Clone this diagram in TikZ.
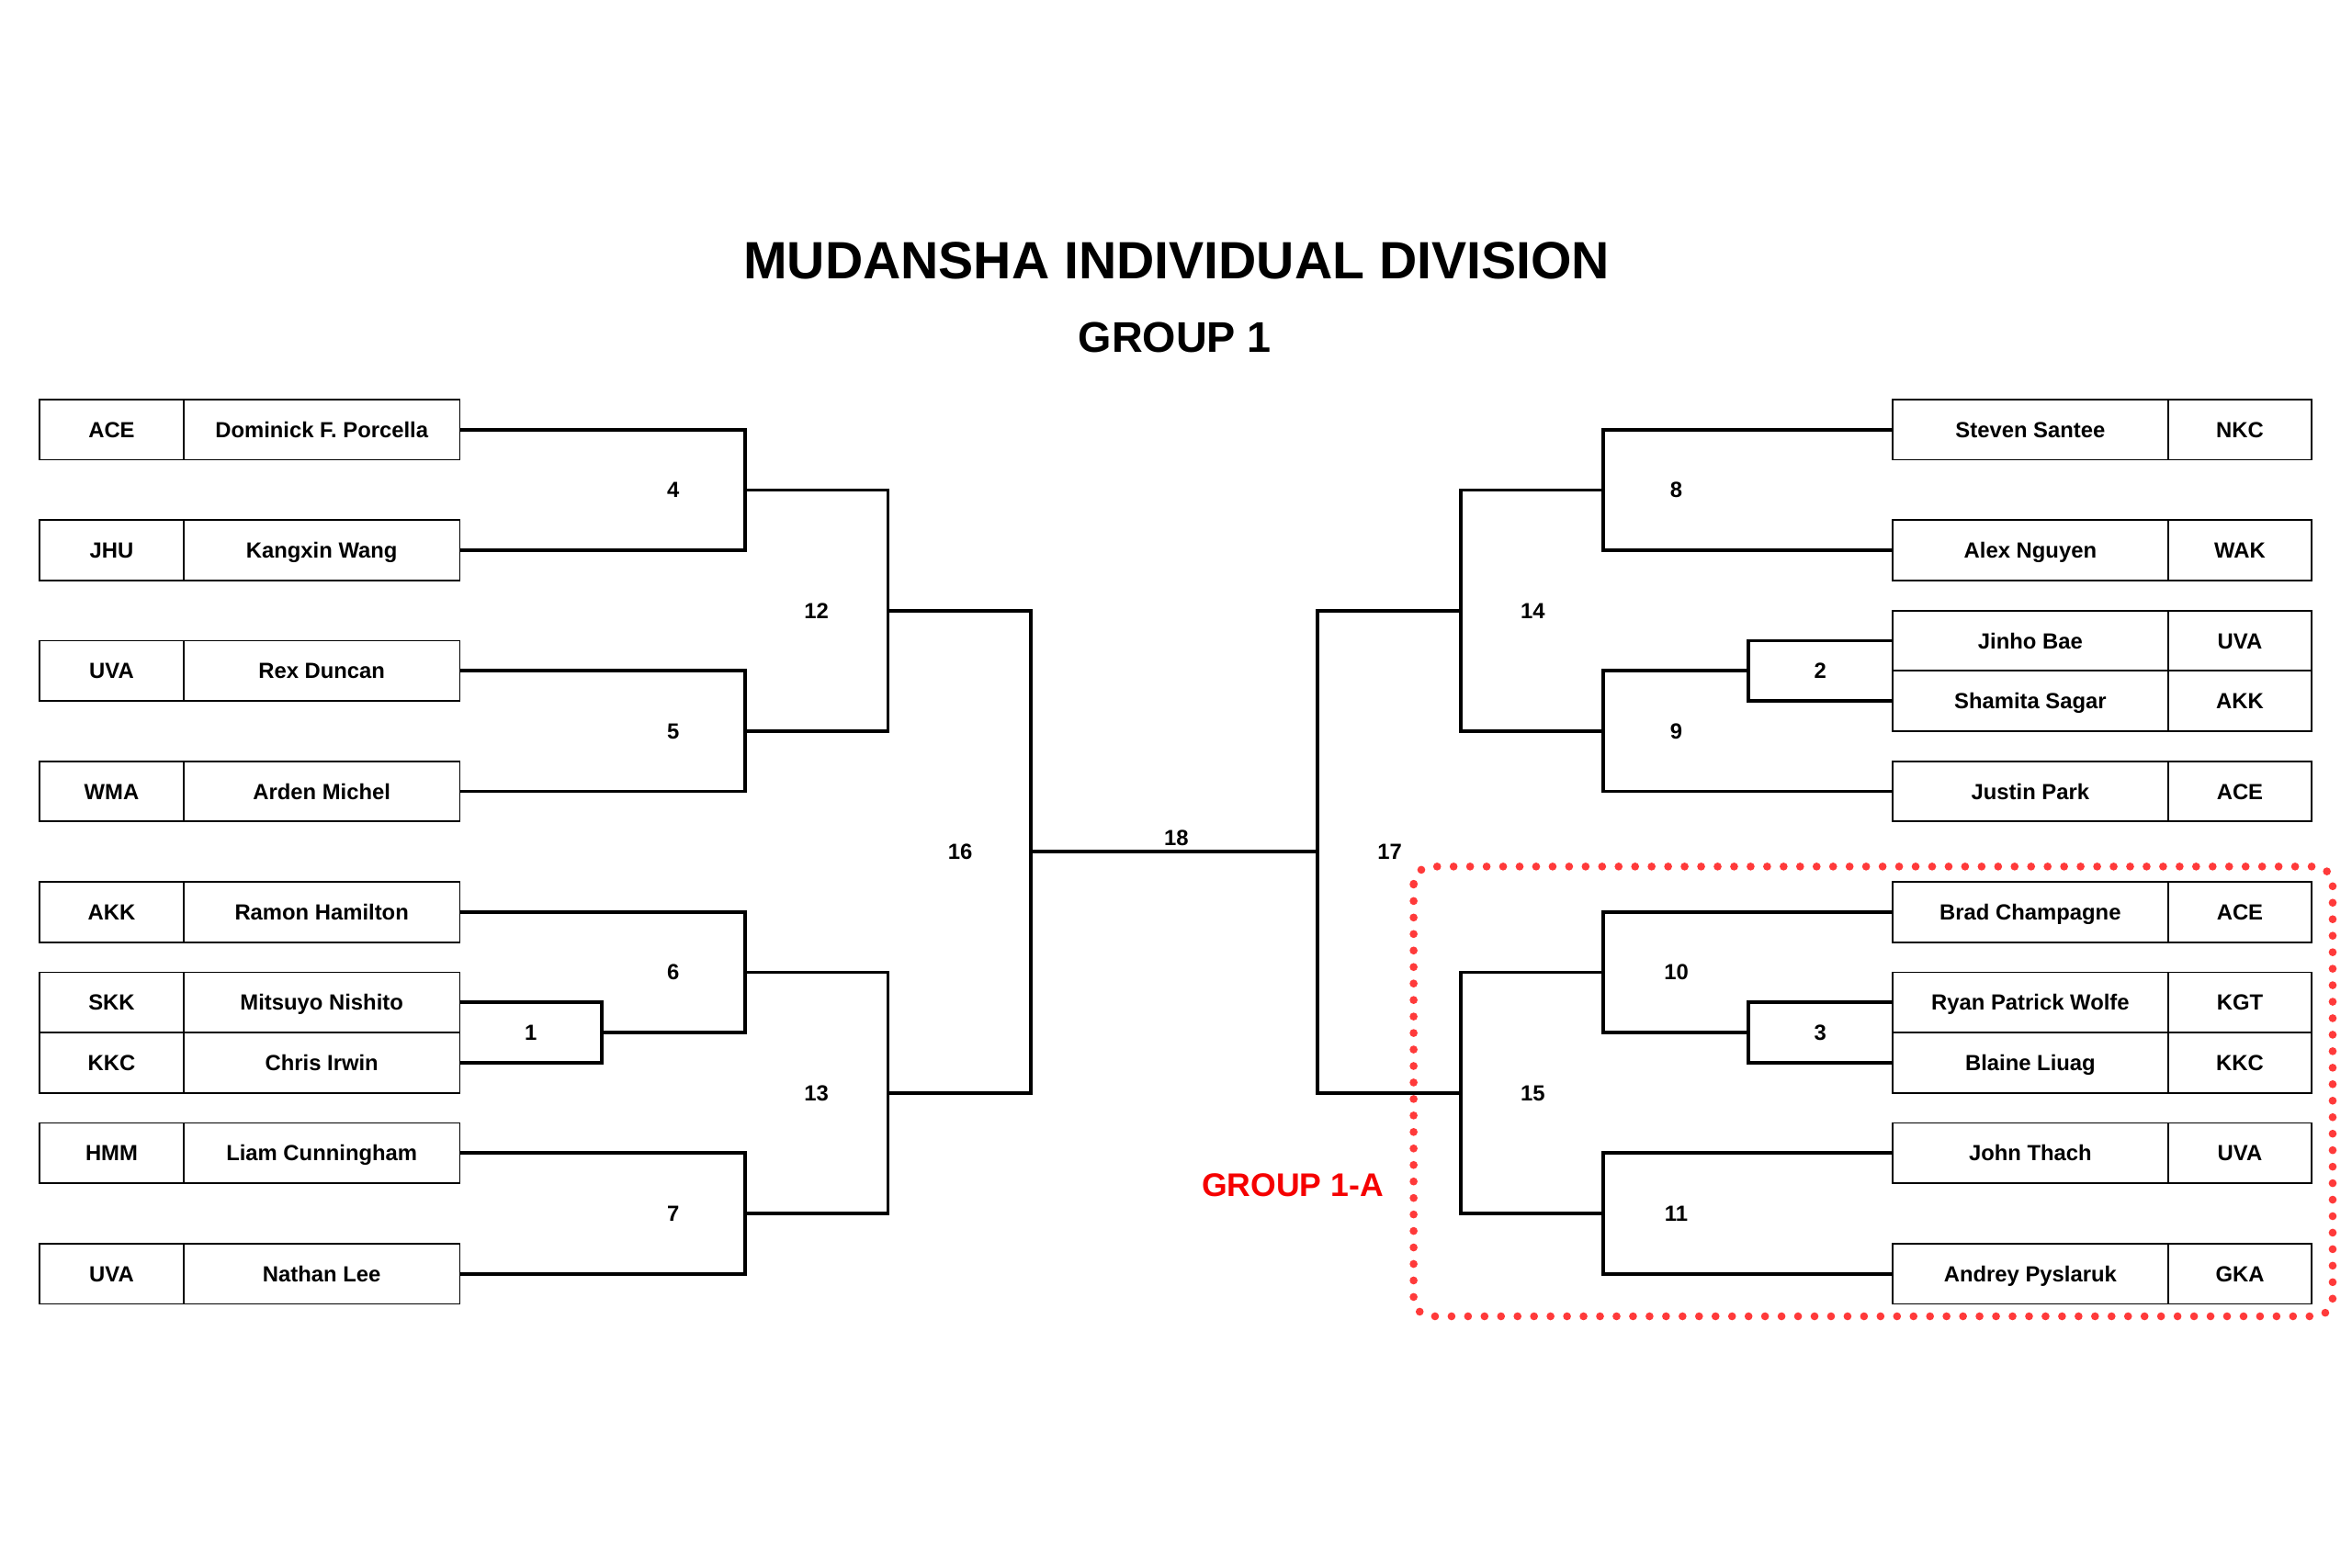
\documentclass[tikz,border=0pt]{standalone}
\usepackage{fontspec}
\setmainfont{Liberation Sans}
\definecolor{dotred}{RGB}{255,58,58}
\definecolor{labred}{RGB}{245,0,0}
\newcommand\boxfont{\bfseries\fontsize{14.6}{17}\selectfont}
\newcommand\LeftEntry[4]{%
  \node[clubbox] (#1c) at (74.4,#2) {#3};
  \node[playerbox] (#1) at (214.5,#2) {#4};}
\newcommand\RightEntry[4]{%
  \node[playerbox] (#1) at (1353.55,#2) {#4};
  \node[clubbox] (#1c) at (1493.25,#2) {#3};}
\tikzset{
  clubbox/.style={draw, line width=1.1pt, minimum width=95.8pt, minimum height=40.2pt,
    inner sep=0pt, outer sep=0pt, font=\boxfont, text height=10.45pt, text depth=0pt},
  playerbox/.style={clubbox, minimum width=184.1pt},
  numlabel/.style={font=\boxfont, text height=10.45pt, text depth=0pt, inner sep=0pt},
  bracket/.style={line width=2.3pt, line join=miter},
  reddots/.style={dotred, line width=5.3pt, line cap=round, dash pattern=on 0pt off 11pt, rounded corners=12pt},
}
\begin{document}
\begin{tikzpicture}[x=1pt,y=-1pt]
\fill[white] (0,0) rectangle (1568,1045.5);
\useasboundingbox (0,0) rectangle (1568,1045.5);

% titles
\node[font=\bfseries\fontsize{35}{40}\selectfont, text height=25.06pt, text depth=0pt, inner sep=0pt] (title) at (784.4,173.4) {MUDANSHA INDIVIDUAL DIVISION};
\node[font=\bfseries\fontsize{28.6}{32}\selectfont, text height=20.5pt, text depth=0pt, inner sep=0pt] (group) at (783.3,224.8) {GROUP 1};

% left entries
\LeftEntry{L0}{286.5}{ACE}{Dominick F. Porcella}
\LeftEntry{L1}{366.9}{JHU}{Kangxin Wang}
\LeftEntry{L2}{447.3}{UVA}{Rex Duncan}
\LeftEntry{L3}{527.7}{WMA}{Arden Michel}
\LeftEntry{L4}{608.1}{AKK}{Ramon Hamilton}
\LeftEntry{L5a}{668.4}{SKK}{Mitsuyo Nishito}
\LeftEntry{L5b}{708.6}{KKC}{Chris Irwin}
\LeftEntry{L6}{768.9}{HMM}{Liam Cunningham}
\LeftEntry{L7}{849.3}{UVA}{Nathan Lee}

% right entries
\RightEntry{R0}{286.5}{NKC}{Steven Santee}
\RightEntry{R1}{366.9}{WAK}{Alex Nguyen}
\RightEntry{R2a}{427.2}{UVA}{Jinho Bae}
\RightEntry{R2b}{467.4}{AKK}{Shamita Sagar}
\RightEntry{R3}{527.7}{ACE}{Justin Park}
\RightEntry{R4}{608.1}{ACE}{Brad Champagne}
\RightEntry{R5a}{668.4}{KGT}{Ryan Patrick Wolfe}
\RightEntry{R5b}{708.6}{KKC}{Blaine Liuag}
\RightEntry{R6}{768.9}{UVA}{John Thach}
\RightEntry{R7}{849.3}{GKA}{Andrey Pyslaruk}

% junctions
\coordinate (m4) at (496.5,326.7);
\coordinate (m5) at (496.5,487.5);
\coordinate (m12) at (592,407.1);
\coordinate (m1) at (401,688.5);
\coordinate (m6) at (496.5,648.3);
\coordinate (m7) at (496.5,809.1);
\coordinate (m13) at (592,728.7);
\coordinate (m16) at (687.3,567.9);
\coordinate (m8) at (1069,326.7);
\coordinate (m2) at (1165.5,447.3);
\coordinate (m9) at (1069,487.5);
\coordinate (m14) at (974,407.1);
\coordinate (m3) at (1165.5,688.5);
\coordinate (m10) at (1069,648.3);
\coordinate (m11) at (1069,809.1);
\coordinate (m15) at (974,728.7);
\coordinate (m17) at (878.5,567.9);

% left brackets
\draw[bracket] (L0.east) -| (m4) |- (L1.east);
\draw[bracket] (L2.east) -| (m5) |- (L3.east);
\draw[bracket] (m4) -| (m12) |- (m5);
\draw[bracket] (L5a.east) -| (m1) |- (L5b.east);
\draw[bracket] (L4.east) -| (m6) |- (m1);
\draw[bracket] (L6.east) -| (m7) |- (L7.east);
\draw[bracket] (m6) -| (m13) |- (m7);
\draw[bracket] (m12) -| (m16) |- (m13);
\draw[bracket] (m16) -- (m17);

% right brackets
\draw[bracket] (R0.west) -| (m8) |- (R1.west);
\draw[bracket] (R2a.west) -| (m2) |- (R2b.west);
\draw[bracket] (m2) -| (m9) |- (R3.west);
\draw[bracket] (m8) -| (m14) |- (m9);
\draw[bracket] (R5a.west) -| (m3) |- (R5b.west);
\draw[bracket] (R4.west) -| (m10) |- (m3);
\draw[bracket] (R6.west) -| (m11) |- (R7.west);
\draw[bracket] (m10) -| (m15) |- (m11);
\draw[bracket] (m14) -| (m17) |- (m15);

% match numbers
\node[numlabel] (n1) at (353.8,688.5) {1};
\node[numlabel] (n4) at (448.75,326.7) {4};
\node[numlabel] (n5) at (448.75,487.5) {5};
\node[numlabel] (n6) at (448.75,648.3) {6};
\node[numlabel] (n7) at (448.75,809.1) {7};
\node[numlabel] (n12) at (544.25,407.1) {12};
\node[numlabel] (n13) at (544.25,728.7) {13};
\node[numlabel] (n16) at (640.2,567.9) {16};
\node[numlabel] (n18) at (784.2,558.4) {18};
\node[numlabel] (n17) at (926.5,567.9) {17};
\node[numlabel] (n14) at (1021.8,407.1) {14};
\node[numlabel] (n15) at (1021.8,728.7) {15};
\node[numlabel] (n8) at (1117.5,326.7) {8};
\node[numlabel] (n9) at (1117.5,487.5) {9};
\node[numlabel] (n10) at (1117.5,648.3) {10};
\node[numlabel] (n11) at (1117.5,809.1) {11};
\node[numlabel] (n2) at (1213.5,447.3) {2};
\node[numlabel] (n3) at (1213.5,688.5) {3};

% group 1-A
\draw[reddots] (942.4,577.8) rectangle (1555.1,877.7);
\node[font=\bfseries\fontsize{21.8}{25}\selectfont, text=labred, text height=15.6pt, text depth=0pt, inner sep=0pt] (grpA) at (861.8,789.7) {GROUP 1-A};
\end{tikzpicture}
\end{document}
